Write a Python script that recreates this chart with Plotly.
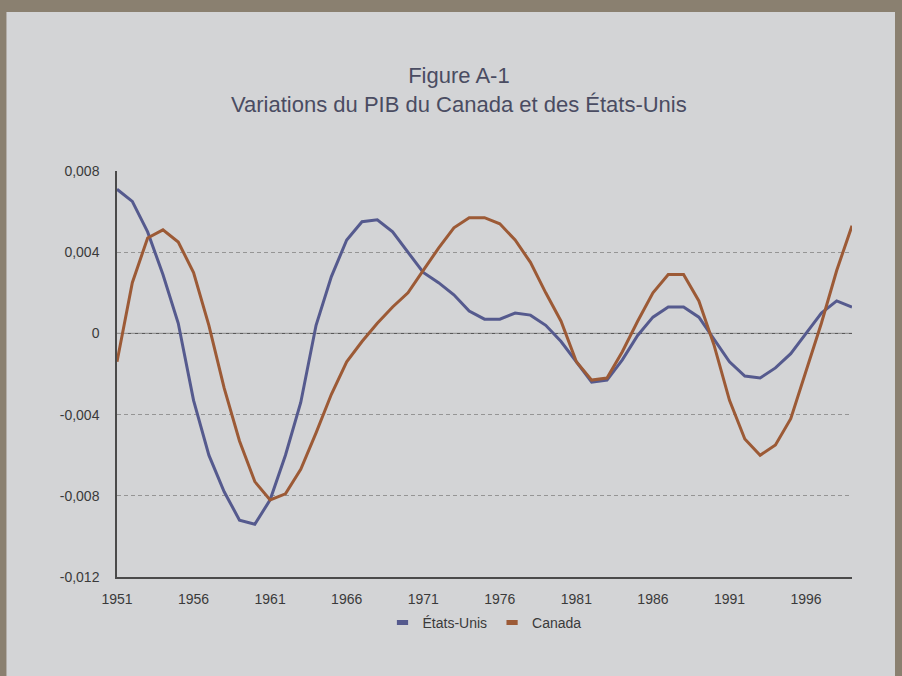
"""Figure A-1: variations du PIB du Canada et des États-Unis."""

import plotly.graph_objects as go

YEARS = list(range(1951, 2000))

ETATS_UNIS = [
    0.0071, 0.0065, 0.0050, 0.0029, 0.0005, -0.0033, -0.0060, -0.0078, -0.0092, -0.0094,
    -0.0082, -0.0060, -0.0034, 0.0004, 0.0028, 0.0046, 0.0055, 0.0056, 0.0050, 0.0040,
    0.0030, 0.0025, 0.0019, 0.0011, 0.0007, 0.0007, 0.0010, 0.0009, 0.0004, -0.0004,
    -0.0014, -0.0024, -0.0023, -0.0013, -0.0001, 0.0008, 0.0013, 0.0013, 0.0008, -0.0003,
    -0.0014, -0.0021, -0.0022, -0.0017, -0.0010, 0.0000, 0.0010, 0.0016, 0.0013,
]

CANADA = [
    -0.0014, 0.0025, 0.0047, 0.0051, 0.0045, 0.0030, 0.0004, -0.0027, -0.0053, -0.0073,
    -0.0082, -0.0079, -0.0067, -0.0049, -0.0030, -0.0014, -0.0004, 0.0005, 0.0013, 0.0020,
    0.0031, 0.0042, 0.0052, 0.0057, 0.0057, 0.0054, 0.0046, 0.0035, 0.0020, 0.0006,
    -0.0014, -0.0023, -0.0022, -0.0009, 0.0006, 0.0020, 0.0029, 0.0029, 0.0016, -0.0006,
    -0.0033, -0.0052, -0.0060, -0.0055, -0.0042, -0.0018, 0.0005, 0.0031, 0.0053,
]

X_TICKS = list(range(1951, 2000, 5))
Y_TICKS = [0.008, 0.004, 0, -0.004, -0.008, -0.012]
Y_TICK_TEXT = ["0,008", "0,004", "0", "-0,004", "-0,008", "-0,012"]

BLUE = "#555a8e"
BROWN = "#9c5a36"
PANEL = "#d3d4d6"
BORDER = "#8a8070"
FONT = "Liberation Sans, Arial, sans-serif"

fig = go.Figure()

for name, values, color in [("États-Unis", ETATS_UNIS, BLUE), ("Canada", CANADA, BROWN)]:
    fig.add_trace(
        go.Scatter(
            x=YEARS,
            y=values,
            mode="lines",
            line={"color": color, "width": 3},
            showlegend=False,
            name=name,
        )
    )
    # short bar legend entry, like the original spreadsheet legend
    fig.add_trace(
        go.Scatter(
            x=[None],
            y=[None],
            mode="markers",
            name=name,
            marker={
                "symbol": "line-ew",
                "size": 8,
                "line": {"color": color, "width": 5},
            },
        )
    )

# light panel on the darker page border
fig.add_shape(
    type="rect",
    xref="paper",
    yref="paper",
    x0=-0.1504,
    x1=1.0585,
    y0=-0.30,
    y1=1.3916,
    fillcolor=PANEL,
    line={"width": 0},
    layer="below",
)

fig.add_hline(y=0, line_color="#4a4a4a", line_width=1, layer="below")

fig.add_annotation(
    text="Figure A-1<br>Variations du PIB du Canada et des États-Unis",
    xref="paper",
    yref="paper",
    x=0.465,
    y=1.128,
    xanchor="center",
    yanchor="bottom",
    showarrow=False,
    align="center",
    font={"family": FONT, "size": 22, "color": "#4a4c62"},
)

fig.update_layout(
    width=902,
    height=676,
    paper_bgcolor=BORDER,
    plot_bgcolor=PANEL,
    margin={"l": 117, "r": 50, "t": 171, "b": 99},
    font={"family": FONT, "size": 14, "color": "#3a3a3a"},
    legend={
        "orientation": "h",
        "x": 0.5,
        "y": -0.113,
        "xanchor": "center",
        "yanchor": "middle",
        "bgcolor": "rgba(0,0,0,0)",
        "font": {"size": 14, "color": "#3a3a3a"},
        "itemwidth": 30,
        "tracegroupgap": 0,
    },
)

fig.update_xaxes(
    range=[1951, 1999],
    tickvals=X_TICKS,
    showgrid=False,
    zeroline=False,
    showline=True,
    linecolor="#4a4a4a",
    linewidth=1.5,
    ticks="",
    ticklabelstandoff=8,
)

fig.update_yaxes(
    range=[-0.012, 0.008],
    tickvals=Y_TICKS,
    ticktext=Y_TICK_TEXT,
    showgrid=True,
    gridcolor="#959595",
    griddash="4px,3px",
    gridwidth=1,
    zeroline=False,
    showline=True,
    linecolor="#4a4a4a",
    linewidth=1.5,
    ticks="",
    ticklabelstandoff=13,
)

# the page has a default body margin; drop it so the figure fills the window
fig.write_html(
    "out.html",
    config={"displayModeBar": False},
    post_script="document.body.style.margin = '0';",
)
